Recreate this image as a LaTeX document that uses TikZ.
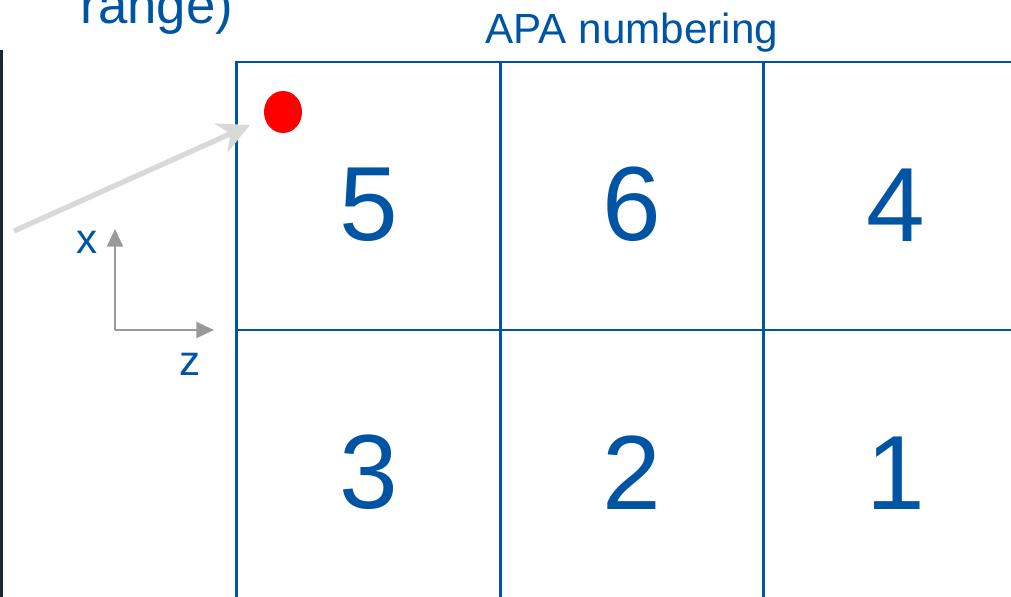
\documentclass[tikz,border=0pt]{standalone}
\usepackage{fontspec}
\setmainfont{Liberation Sans}
\usetikzlibrary{arrows.meta,positioning,shapes.geometric}
\definecolor{apablue}{RGB}{0,84,164}
\definecolor{darkbar}{RGB}{26,38,52}

\begin{document}
\begin{tikzpicture}[
    x=0.01cm, y=-0.01cm,
    cell/.style={rectangle, draw=apablue, line width=0.8pt, minimum width=2.635cm, minimum height=2.68cm, inner sep=0pt, text=apablue, font=\fontsize{30}{34}\selectfont, text height=0.9cm},
    lbl/.style={text=apablue, font=\fontsize{12}{14}\selectfont, inner sep=0pt},
    axis/.style={-{Triangle[length=5pt,width=4.5pt]}, line width=0.7pt, draw=gray!80},
    pointer/.style={-{Stealth[length=9pt,width=9pt]}, line width=1.5pt, draw=gray!30},
    dot/.style={ellipse, fill=red, minimum width=0.38cm, minimum height=0.42cm, inner sep=0pt}
]
\useasboundingbox (0,0) rectangle (1011,597);
\clip (0,0) rectangle (1011,597);

% titre coupe
\node[lbl, anchor=base west, font=\fontsize{15}{18}\selectfont] (range) at (80,23) {range)};
\draw[darkbar, line width=1.1pt] (1.5,50) -- (1.5,600);

% grille APA
\node[cell] (c5) at (368.5,196) {5};
\node[cell] (c6) at (632,196) {6};
\node[cell] (c4) at (895.5,196) {4};
\node[cell] (c3) at (368.5,464) {3};
\node[cell] (c2) at (632,464) {2};
\node[cell] (c1) at (895.5,464) {1};
\node[lbl, anchor=base] (apa) at (632,44) {APA numbering};

% point rouge
\node[dot] (spot) at (283,112) {};
\coordinate (from) at (14,231);
\coordinate (tip) at (250,125);
\draw[pointer] (from) -- (tip);

% axes
\coordinate (orig) at (115,330);
\coordinate (xend) at (115,229);
\coordinate (zend) at (214,330);
\draw[axis] (orig) -- (xend);
\draw[axis] (orig) -- (zend);
\node[lbl] (xlab) at (87,242) {x};
\node[lbl] (zlab) at (190,364) {z};

\end{tikzpicture}
\end{document}
